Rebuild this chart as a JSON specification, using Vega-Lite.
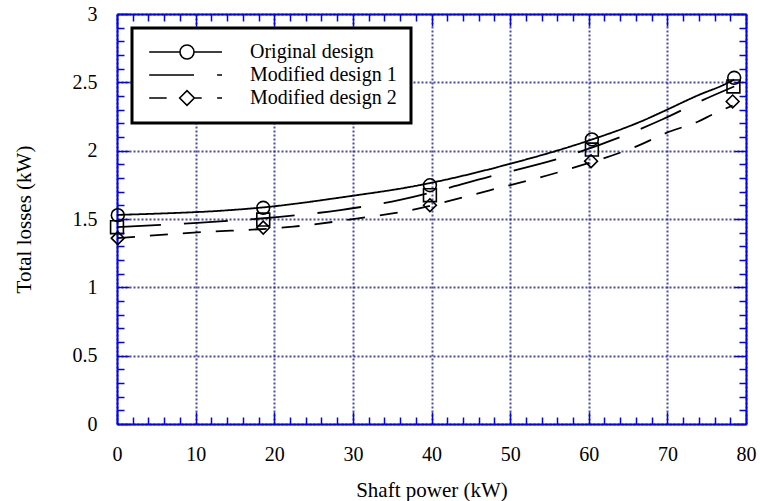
{
  "$schema": "https://vega.github.io/schema/vega-lite/v6.json",
  "width": 629,
  "height": 410,
  "autosize": {"type": "none"},
  "padding": {"left": 117, "top": 14, "right": 14, "bottom": 77},
  "background": "white",
  "config": {
    "view": {"stroke": null},
    "font": "Liberation Serif",
    "style": {"guide-label": {"font": "Liberation Serif"}, "guide-title": {"font": "Liberation Serif"}},
    "legend": {"strokeWidth": 3}
  },
  "datasets": {
    "curves": [
      {"series": "Original design", "power": 0, "loss": 1.53},
      {"series": "Original design", "power": 5.5, "loss": 1.54},
      {"series": "Original design", "power": 13.1, "loss": 1.56},
      {"series": "Original design", "power": 18.6, "loss": 1.585},
      {"series": "Original design", "power": 29.6, "loss": 1.667},
      {"series": "Original design", "power": 37.3, "loss": 1.735},
      {"series": "Original design", "power": 50.4, "loss": 1.91},
      {"series": "Original design", "power": 59.8, "loss": 2.07},
      {"series": "Original design", "power": 66.9, "loss": 2.22},
      {"series": "Original design", "power": 69.4, "loss": 2.285},
      {"series": "Original design", "power": 74.1, "loss": 2.41},
      {"series": "Original design", "power": 77.1, "loss": 2.48},
      {"series": "Original design", "power": 78.5, "loss": 2.52},
      {"series": "Modified design 1", "power": 0, "loss": 1.44},
      {"series": "Modified design 1", "power": 9.7, "loss": 1.47},
      {"series": "Modified design 1", "power": 20.7, "loss": 1.516},
      {"series": "Modified design 1", "power": 28.4, "loss": 1.565},
      {"series": "Modified design 1", "power": 36, "loss": 1.64},
      {"series": "Modified design 1", "power": 47.4, "loss": 1.81},
      {"series": "Modified design 1", "power": 57.2, "loss": 1.96},
      {"series": "Modified design 1", "power": 64.5, "loss": 2.11},
      {"series": "Modified design 1", "power": 69.4, "loss": 2.23},
      {"series": "Modified design 1", "power": 74.5, "loss": 2.37},
      {"series": "Modified design 1", "power": 78.5, "loss": 2.47},
      {"series": "Modified design 2", "power": 0, "loss": 1.36},
      {"series": "Modified design 2", "power": 9.7, "loss": 1.4},
      {"series": "Modified design 2", "power": 22.4, "loss": 1.444},
      {"series": "Modified design 2", "power": 30.9, "loss": 1.506},
      {"series": "Modified design 2", "power": 36, "loss": 1.55},
      {"series": "Modified design 2", "power": 47.4, "loss": 1.71},
      {"series": "Modified design 2", "power": 57.2, "loss": 1.86},
      {"series": "Modified design 2", "power": 66, "loss": 2.03},
      {"series": "Modified design 2", "power": 70.3, "loss": 2.14},
      {"series": "Modified design 2", "power": 73.8, "loss": 2.21},
      {"series": "Modified design 2", "power": 75.7, "loss": 2.264},
      {"series": "Modified design 2", "power": 78.3, "loss": 2.33}
    ],
    "points": [
      {"series": "Original design", "power": 0.1, "loss": 1.528},
      {"series": "Original design", "power": 18.6, "loss": 1.582},
      {"series": "Original design", "power": 39.8, "loss": 1.747},
      {"series": "Original design", "power": 60.4, "loss": 2.082},
      {"series": "Original design", "power": 78.5, "loss": 2.533},
      {"series": "Modified design 1", "power": 0, "loss": 1.44},
      {"series": "Modified design 1", "power": 18.6, "loss": 1.496},
      {"series": "Modified design 1", "power": 39.8, "loss": 1.674},
      {"series": "Modified design 1", "power": 60.4, "loss": 2.008},
      {"series": "Modified design 1", "power": 78.4, "loss": 2.47},
      {"series": "Modified design 2", "power": 0.1, "loss": 1.36},
      {"series": "Modified design 2", "power": 18.6, "loss": 1.437},
      {"series": "Modified design 2", "power": 39.8, "loss": 1.601},
      {"series": "Modified design 2", "power": 60.3, "loss": 1.923},
      {"series": "Modified design 2", "power": 78.3, "loss": 2.36}
    ]
  },
  "layer": [
    {
      "data": {"name": "curves"},
      "mark": {"type": "line", "color": "black", "strokeWidth": 1.8, "interpolate": "monotone"},
      "encoding": {
        "x": {
          "field": "power", "type": "quantitative",
          "scale": {"domain": [0, 80], "nice": false},
          "axis": {
            "orient": "bottom",
            "values": [0,2,4,6,8,10,12,14,16,18,20,22,24,26,28,30,32,34,36,38,40,42,44,46,48,50,52,54,56,58,60,62,64,66,68,70,72,74,76,78,80],
            "title": "Shaft power (kW)",
            "titleFont": "Liberation Serif", "titleFontSize": 21, "titleFontWeight": "normal", "titleColor": "black", "titlePadding": 10,
            "labelFont": "Liberation Serif", "labelFontSize": 20, "labelColor": "black", "labelPadding": 32,
            "labelExpr": "datum.value % 10 === 0 ? datum.label : ''",
            "labelOverlap": false, "labelFlush": false, "labelBound": false,
            "domainColor": "#0000ff", "domainWidth": 2,
            "tickColor": "#0000ff", "tickWidth": 1.5,
            "tickSize": {"condition": {"test": "datum.value % 10 === 0", "value": -12}, "value": -7},
            "grid": true, "gridColor": "#2a2a9a", "gridDash": [2, 2], "gridWidth": 2,
            "gridOpacity": {"condition": {"test": "datum.value % 10 === 0", "value": 0.85}, "value": 0}
          }
        },
        "y": {
          "field": "loss", "type": "quantitative",
          "scale": {"domain": [0, 3], "nice": false},
          "axis": {
            "orient": "left",
            "values": [0,0.1,0.2,0.3,0.4,0.5,0.6,0.7,0.8,0.9,1,1.1,1.2,1.3,1.4,1.5,1.6,1.7,1.8,1.9,2,2.1,2.2,2.3,2.4,2.5,2.6,2.7,2.8,2.9,3],
            "format": "~g",
            "title": "Total losses (kW)",
            "titleFont": "Liberation Serif", "titleFontSize": 21, "titleFontWeight": "normal", "titleColor": "black", "titlePadding": 38,
            "labelFont": "Liberation Serif", "labelFontSize": 20, "labelColor": "black", "labelPadding": 32,
            "labelExpr": "abs(datum.value * 2 - round(datum.value * 2)) < 0.001 ? datum.label : ''",
            "labelOverlap": false, "labelFlush": false, "labelBound": false,
            "domainColor": "#0000ff", "domainWidth": 2,
            "tickColor": "#0000ff", "tickWidth": 1.5,
            "tickSize": {"condition": {"test": "abs(datum.value * 2 - round(datum.value * 2)) < 0.001", "value": -12}, "value": -7},
            "grid": true, "gridColor": "#2a2a9a", "gridDash": [2, 2], "gridWidth": 2,
            "gridOpacity": {"condition": {"test": "abs(datum.value * 2 - round(datum.value * 2)) < 0.001", "value": 0.85}, "value": 0}
          }
        },
        "strokeDash": {
          "field": "series", "type": "nominal",
          "scale": {"domain": ["Original design", "Modified design 1", "Modified design 2"], "range": [[1, 0], [44, 23], [18, 15]]},
          "legend": null
        }
      }
    },
    {
      "data": {"name": "points"},
      "mark": {"type": "point", "filled": false, "color": "black", "strokeWidth": 1.6, "size": 165, "opacity": 1},
      "encoding": {
        "x": {
          "field": "power", "type": "quantitative",
          "scale": {"domain": [0, 80], "nice": false},
          "axis": {
            "orient": "top",
            "values": [0,2,4,6,8,10,12,14,16,18,20,22,24,26,28,30,32,34,36,38,40,42,44,46,48,50,52,54,56,58,60,62,64,66,68,70,72,74,76,78,80],
            "title": null, "labels": false, "grid": false,
            "domainColor": "#0000ff", "domainWidth": 2,
            "tickColor": "#0000ff", "tickWidth": 1.5,
            "tickSize": {"condition": {"test": "datum.value % 10 === 0", "value": -12}, "value": -7}
          }
        },
        "y": {
          "field": "loss", "type": "quantitative",
          "scale": {"domain": [0, 3], "nice": false},
          "axis": {
            "orient": "right",
            "values": [0,0.1,0.2,0.3,0.4,0.5,0.6,0.7,0.8,0.9,1,1.1,1.2,1.3,1.4,1.5,1.6,1.7,1.8,1.9,2,2.1,2.2,2.3,2.4,2.5,2.6,2.7,2.8,2.9,3],
            "title": null, "labels": false, "grid": false,
            "domainColor": "#0000ff", "domainWidth": 2,
            "tickColor": "#0000ff", "tickWidth": 1.5,
            "tickSize": {"condition": {"test": "abs(datum.value * 2 - round(datum.value * 2)) < 0.001", "value": -12}, "value": -7}
          }
        },
        "shape": {
          "field": "series", "type": "nominal",
          "scale": {"domain": ["Original design", "Modified design 1", "Modified design 2"], "range": ["circle", "square", "diamond"]},
          "legend": null
        }
      }
    },
    {
      "data": {"name": "points"},
      "mark": {"type": "point", "filled": false, "strokeWidth": 1.6, "size": 196, "opacity": 0},
      "encoding": {
        "x": {"field": "power", "type": "quantitative", "scale": {"domain": [0, 80], "nice": false}, "axis": null},
        "y": {"field": "loss", "type": "quantitative", "scale": {"domain": [0, 3], "nice": false}, "axis": null},
        "color": {
          "field": "series", "type": "nominal",
          "scale": {"domain": ["Original design", "Modified design 1", "Modified design 2"], "range": ["black", "black", "black"]},
          "legend": {
            "orient": "none", "legendX": 21, "legendY": 20, "zindex": 0,
            "title": null,
            "strokeColor": "black", "fillColor": "black", "padding": 14,
            "labelFont": "Liberation Serif", "labelFontSize": 20, "labelColor": "black",
            "symbolType": "M-5.4,0H-1M1,0H5M-1,0A1,1 0 1,1 1,0A1,1 0 1,1 -1,0",
            "symbolSize": 196, "symbolOffset": 31, "labelOffset": 53, "rowPadding": 2,
            "symbolStrokeWidth": 1.6, "symbolStrokeColor": "black", "symbolOpacity": 1
          }
        }
      }
    },
    {
      "data": {"name": "points"},
      "mark": {"type": "point", "filled": false, "color": "black", "strokeWidth": 1.6, "size": 196, "opacity": 0},
      "encoding": {
        "x": {"field": "power", "type": "quantitative", "scale": {"domain": [0, 80], "nice": false}, "axis": null},
        "y": {"field": "loss", "type": "quantitative", "scale": {"domain": [0, 3], "nice": false}, "axis": null},
        "shape": {
          "field": "series", "type": "nominal",
          "scale": {
            "domain": ["Original design", "Modified design 1", "Modified design 2"],
            "range": [
              "M-5.4,0H-1M1,0H5M-1,0A1,1 0 1,1 1,0A1,1 0 1,1 -1,0",
              "M-5.4,0H1M4.3,0H5",
              "M-5.4,0H-2.9M1,0H2.1M4.3,0H5M-1.05,0L0,-1.05L1.05,0L0,1.05Z"
            ]
          },
          "legend": {
            "orient": "none", "legendX": 15, "legendY": 14, "zindex": 1,
            "title": null,
            "strokeColor": "black", "fillColor": "white", "padding": 14,
            "labelFont": "Liberation Serif", "labelFontSize": 20, "labelColor": "black",
            "symbolSize": 196, "symbolOffset": 31, "labelOffset": 53, "rowPadding": 2,
            "symbolStrokeWidth": 1.6, "symbolStrokeColor": "black", "symbolOpacity": 1
          }
        }
      }
    }
  ],
  "resolve": {"axis": {"x": "independent", "y": "independent"}, "scale": {"shape": "independent"}}
}
